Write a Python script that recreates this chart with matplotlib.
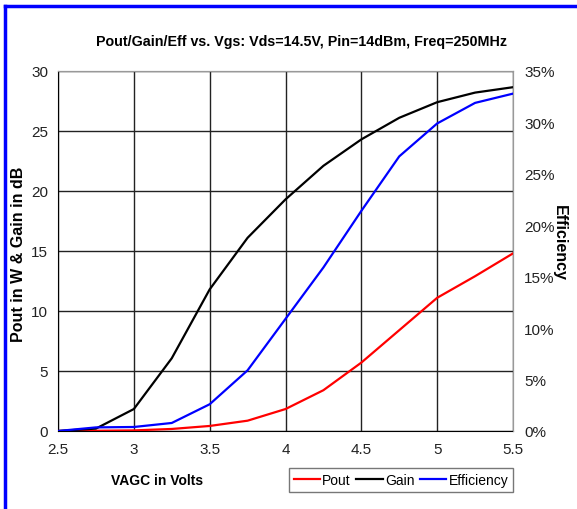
import matplotlib
matplotlib.use("Agg")
import matplotlib.pyplot as plt
from matplotlib.lines import Line2D

plt.rcParams['font.family'] = ['Liberation Sans', 'DejaVu Sans']

vagc = [2.5, 2.75, 3.0, 3.25, 3.5, 3.75, 4.0, 4.25, 4.5, 4.75, 5.0, 5.25, 5.5]
pout = [0.0, 0.02, 0.05, 0.17, 0.42, 0.86, 1.83, 3.4, 5.7, 8.4, 11.1, 12.9, 14.8]
gain = [0.0, 0.2, 1.83, 6.06, 11.8, 16.1, 19.3, 22.1, 24.3, 26.1, 27.4, 28.2, 28.65]
eff = [0.0, 0.35, 0.39, 0.78, 2.6, 5.9, 10.9, 15.9, 21.4, 26.7, 29.9, 31.9, 32.8]

xticks = [2.5, 3, 3.5, 4, 4.5, 5, 5.5]
yticks = [0, 5, 10, 15, 20, 25, 30]
y2ticks = [0, 5, 10, 15, 20, 25, 30, 35]

W, H = 577, 510
fig = plt.figure(figsize=(W / 100, H / 100), dpi=100)
ax = fig.add_axes([58 / W, 1 - 432 / H, (513 - 58) / W, (432 - 72) / H])
ax2 = ax.twinx()

ax.plot(vagc, pout, color='#ff0000', lw=1.6, zorder=3)
ax.plot(vagc, gain, color='#000000', lw=1.6, zorder=3)
ax2.plot(vagc, eff, color='#0000ff', lw=1.6, zorder=3)

ax.set_xlim(2.5, 5.5)
ax.set_ylim(0, 30)
ax2.set_ylim(0, 35)
ax.set_xticks(xticks)
ax.set_xticklabels([f"{t:g}" for t in xticks])
ax.set_yticks(yticks)
ax2.set_yticks(y2ticks)
ax2.set_yticklabels([f"{t}%" for t in y2ticks])

ax.grid(True, color='#222222', lw=1.0)
ax.set_axisbelow(True)
for a in (ax, ax2):
    a.tick_params(length=0, labelsize=11, colors='#222222', pad=7)
ax.tick_params(axis='x', pad=8)
ax2.tick_params(axis='y', pad=8)

ax.spines['left'].set_color('#000000')
ax.spines['bottom'].set_color('#000000')
for s in ('top', 'right'):
    ax.spines[s].set_color('#999999')
    ax2.spines[s].set_color('#999999')
ax2.spines['left'].set_visible(False)
ax2.spines['bottom'].set_visible(False)

fig.text(301 / W, 1 - 42 / H, "Pout/Gain/Eff vs. Vgs: Vds=14.5V, Pin=14dBm, Freq=250MHz",
         ha='center', va='center', fontsize=10.3, fontweight='bold')
fig.text(19 / W, 1 - 254 / H, "Pout in W & Gain in dB", rotation=90,
         ha='center', va='center', fontsize=11.5, fontweight='bold')
fig.text(559 / W, 1 - 243 / H, "Efficiency", rotation=-90,
         ha='center', va='center', fontsize=11.5, fontweight='bold')
fig.text(157 / W, 1 - 481 / H, "VAGC in Volts",
         ha='center', va='center', fontsize=10, fontweight='bold')

handles = [Line2D([], [], color='#ff0000', lw=1.6),
           Line2D([], [], color='#000000', lw=1.6),
           Line2D([], [], color='#0000ff', lw=1.6)]
leg = fig.legend(handles, ['Pout', 'Gain', 'Efficiency'], ncol=3,
                 loc='center', bbox_to_anchor=(401 / W, 1 - 481 / H),
                 frameon=True, fancybox=False, fontsize=10,
                 handlelength=1.9, handletextpad=0.15, columnspacing=0.4,
                 borderpad=0.35, borderaxespad=0, edgecolor='#555555')
leg.get_frame().set_linewidth(1.0)

# blue frame
fig.add_artist(Line2D([5 / W, 1.0], [1 - 7 / H, 1 - 7 / H], color='#0000ff', lw=2.5,
                      transform=fig.transFigure))
fig.add_artist(Line2D([5 / W, 5 / W], [0.0, 1 - 7 / H], color='#0000ff', lw=2.5,
                      transform=fig.transFigure))

fig.savefig("out.png", dpi=100)
